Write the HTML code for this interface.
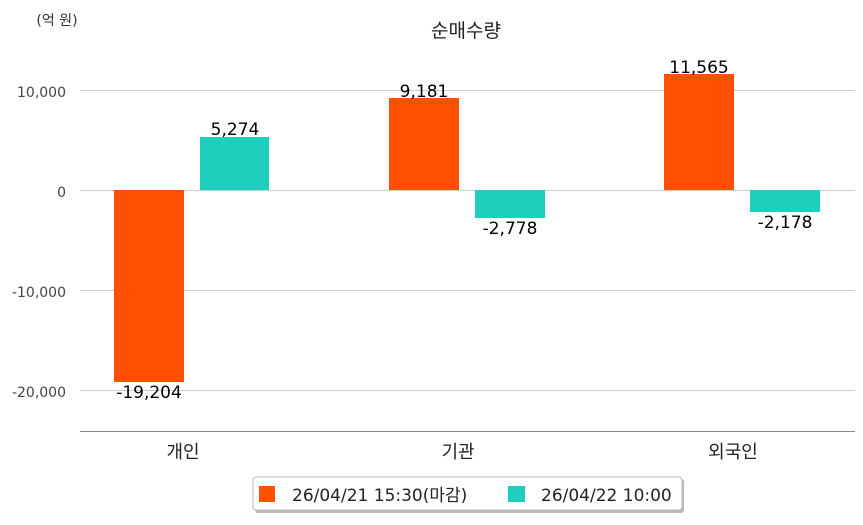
<!DOCTYPE html>
<html><head><meta charset="utf-8"><style>
body{margin:0;background:#fff;}
svg text{font-family:"DejaVu Sans","Noto Sans CJK KR",sans-serif;}
</style></head><body>
<svg width="863" height="520" xmlns="http://www.w3.org/2000/svg">
<rect width="863" height="520" fill="#fff"/>
<text x="57" y="25" font-size="14" text-anchor="middle" fill="#333">(억 원)</text>
<text x="466" y="37" font-size="19" text-anchor="middle" fill="#222">순매수량</text>
<g stroke="#ccc" stroke-width="1">
<line x1="80" x2="855" y1="90.5" y2="90.5"/>
<line x1="80" x2="855" y1="190.5" y2="190.5"/>
<line x1="80" x2="855" y1="290.5" y2="290.5"/>
<line x1="80" x2="855" y1="390.5" y2="390.5"/>
</g>
<line x1="80" x2="855" y1="431.5" y2="431.5" stroke="#888"/>
<g font-size="14" fill="#444" text-anchor="end">
<text x="66" y="97">10,000</text>
<text x="66" y="197">0</text>
<text x="66" y="297">-10,000</text>
<text x="66" y="397">-20,000</text>
</g>
<g fill="#ff5100">
<rect x="114" y="190" width="70" height="192"/>
<rect x="389" y="98" width="70" height="92"/>
<rect x="664" y="74" width="70" height="116"/>
</g>
<g fill="#1ecfbd">
<rect x="200" y="137" width="69" height="53"/>
<rect x="475" y="190" width="70" height="28"/>
<rect x="750" y="190" width="70" height="22"/>
</g>
<g font-size="17" fill="#000" text-anchor="middle" font-weight="500">
<text x="149" y="398">-19,204</text>
<text x="235" y="135">5,274</text>
<text x="424" y="97">9,181</text>
<text x="510" y="234">-2,778</text>
<text x="699" y="73">11,565</text>
<text x="785" y="228">-2,178</text>
</g>
<g font-size="18" fill="#222" text-anchor="middle">
<text x="183" y="458">개인</text>
<text x="458" y="458">기관</text>
<text x="733" y="458">외국인</text>
</g>
<rect x="255" y="479" width="429" height="34" rx="3" fill="#888" opacity="0.6"/>
<rect x="253" y="477" width="429" height="33" rx="3" fill="#fff" stroke="#bbb"/>
<rect x="259" y="486" width="16" height="16" fill="#ff5100"/>
<text x="292" y="501" font-size="17" fill="#222">26/04/21 15:30(마감)</text>
<rect x="508" y="486" width="17" height="16" fill="#1ecfbd"/>
<text x="541" y="501" font-size="17" fill="#222">26/04/22 10:00</text>
</svg>
</body></html>
